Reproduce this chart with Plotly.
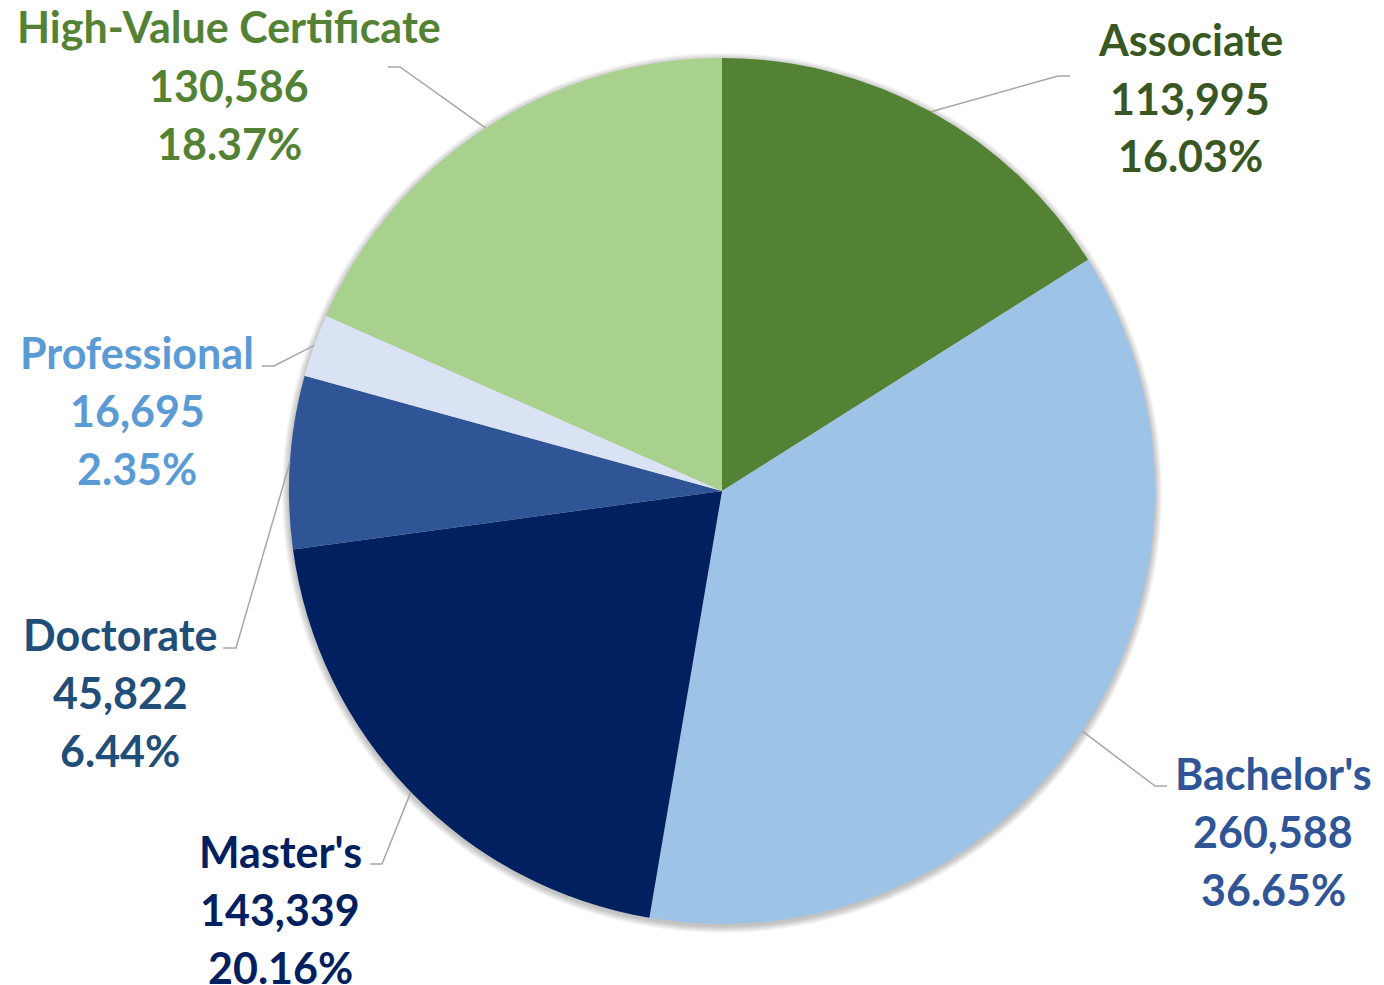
import math
import plotly.graph_objects as go

# the page body keeps its default 8px margin, so the figure is drawn
# 8px in from the window's top-left corner
OFF = 8
W, H = 1384 - OFF, 985 - OFF

# chart data
categories = ["Associate", "Bachelor's", "Master's", "Doctorate", "Professional", "High-Value Certificate"]
counts = [113995, 260588, 143339, 45822, 16695, 130586]

slice_colors = ["#548235", "#9DC3E6", "#002060", "#2F5597", "#DAE3F3", "#A9D18E"]
label_colors = ["#385723", "#2F5597", "#002060", "#1F4E79", "#5B9BD5", "#548235"]

# label block centres (window px) and leader-line elbows / ends (window px)
label_pos = [(1190, 40), (1273, 773), (280, 851), (120, 634), (137, 352), (229, 27)]
elbows = [(1058, 76), (1155, 786), (382, 864), (236, 648), (274, 366), (400, 67)]
line_ends = [(1070, 76), (1167, 786), (370, 864), (223, 648), (262, 366), (388, 67)]

CX, CY, R = 722, 491, 433
LINE_GAP = 58


def px(x, y):
    return (x - OFF) / W, 1 - (y - OFF) / H


total = sum(counts)
pcts = [c / total * 100 for c in counts]

fig = go.Figure()
d0 = px(CX - R, CY + R)
d1 = px(CX + R, CY - R)
fig.add_trace(go.Pie(
    labels=categories,
    values=counts,
    sort=False,
    direction="clockwise",
    rotation=0,
    textinfo="none",
    hoverinfo="label+value+percent",
    marker=dict(colors=slice_colors, line=dict(width=0)),
    showlegend=False,
    domain=dict(x=[d0[0], d1[0]], y=[d0[1], d1[1]]),
))

shapes = []
# soft shadow round the pie
for k in range(1, 8):
    r = R + k
    a = px(CX - r, CY + 2 + r)
    b = px(CX + r, CY + 2 - r)
    shapes.append(dict(
        type="circle", xref="paper", yref="paper", layer="below",
        x0=a[0], x1=b[0], y0=a[1], y1=b[1],
        fillcolor="rgba(0,0,0,0.035)", line=dict(width=0),
    ))

annotations = []
cum = 0
for i, cat in enumerate(categories):
    mid = (cum + pcts[i] / 2) / 100 * 2 * math.pi
    cum += pcts[i]
    sx = CX + R * math.sin(mid)
    sy = CY - R * math.cos(mid)
    p0 = px(sx, sy)
    p1 = px(*elbows[i])
    p2 = px(*line_ends[i])
    shapes.append(dict(
        type="path", xref="paper", yref="paper",
        path=f"M {p0[0]} {p0[1]} L {p1[0]} {p1[1]} L {p2[0]} {p2[1]}",
        line=dict(color="#A6A6A6", width=1.5),
    ))
    lines = [cat, f"{counts[i]:,}", f"{pcts[i]:.2f}%"]
    lx, ly = label_pos[i]
    for j, t in enumerate(lines):
        ax, ay = px(lx, ly + j * LINE_GAP)
        annotations.append(dict(
            text=t, x=ax, y=ay, xref="paper", yref="paper",
            xanchor="center", yanchor="middle", showarrow=False,
            font=dict(family="Lato", size=43, color=label_colors[i], weight="bold"),
        ))

fig.update_layout(
    width=W, height=H,
    margin=dict(l=0, r=0, t=0, b=0),
    paper_bgcolor="white",
    plot_bgcolor="white",
    shapes=shapes,
    annotations=annotations,
)

fig.write_html("out.html")
